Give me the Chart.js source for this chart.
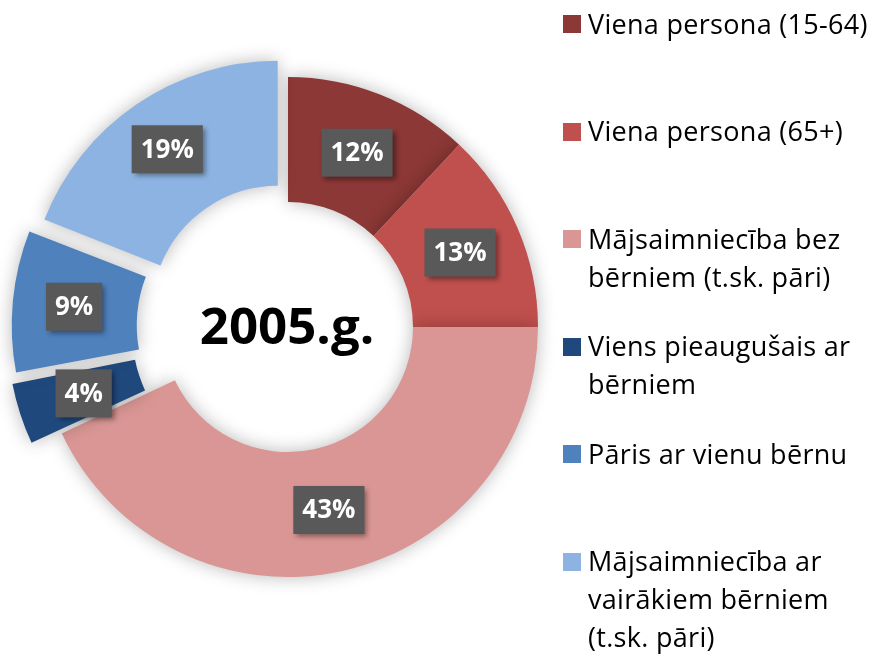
<!DOCTYPE html>
<html>
<head>
<meta charset="utf-8">
<script src="https://cdn.jsdelivr.net/npm/chart.js@4.4.0/dist/chart.umd.min.js"></script>
<style>
  html, body { margin: 0; padding: 0; background: #fff; }
  body { width: 879px; height: 656px; position: relative; overflow: hidden; font-family: "Open Sans", sans-serif; }
  #wrap { position: absolute; left: 0; top: 0; width: 576px; height: 654px; }
  #legend { position: absolute; left: 563px; top: 4.5px; width: 316px; }
  .item { position: relative; height: 107.6px; }
  .box { position: absolute; left: 0; top: 10.5px; width: 18px; height: 18px; }
  .txt { position: absolute; left: 25px; top: 0; font-size: 27px; line-height: 38px; color: #000;
         white-space: nowrap; letter-spacing: 0.3px; }
</style>
</head>
<body>
<div id="wrap"><canvas id="pieChart"></canvas></div>
<div id="legend"></div>
<script>
// data
const categories = [
  ['Viena persona (15-64)'],
  ['Viena persona (65+)'],
  ['Mājsaimniecība bez', 'bērniem (t.sk. pāri)'],
  ['Viens pieaugušais ar', 'bērniem'],
  ['Pāris ar vienu bērnu'],
  ['Mājsaimniecība ar', 'vairākiem bērniem', '(t.sk. pāri)']
];
const shares = [12, 13, 43, 4, 9, 19];
const colors = ['#8C3836', '#C0504D', '#D99694', '#1F497D', '#4F81BD', '#8DB3E2'];
const exploded = [0, 0, 0, 1, 1, 1];
const centerLabel = '2005.g.';

const OFFSET = 72;

// legend
const legendEl = document.getElementById('legend');
categories.forEach((lines, i) => {
  const item = document.createElement('div');
  item.className = 'item';
  const box = document.createElement('div');
  box.className = 'box';
  box.style.background = colors[i];
  const txt = document.createElement('div');
  txt.className = 'txt';
  txt.innerHTML = lines.join('<br>');
  item.appendChild(box);
  item.appendChild(txt);
  legendEl.appendChild(item);
});

const shadowPlugin = {
  id: 'shadow',
  beforeDatasetsDraw(chart) {
    const ctx = chart.ctx;
    ctx.save();
    ctx.shadowColor = 'rgba(0,0,0,0.28)';
    ctx.shadowBlur = 18;
  },
  afterDatasetsDraw(chart) {
    chart.ctx.restore();
  }
};

const labelPlugin = {
  id: 'labels',
  afterDatasetsDraw(chart) {
    const ctx = chart.ctx;
    const meta = chart.getDatasetMeta(0);
    ctx.save();
    ctx.font = 'bold 26px "Open Sans"';
    ctx.textAlign = 'center';
    ctx.textBaseline = 'middle';
    meta.data.forEach((arc, i) => {
      const p = arc.getProps(['x', 'y', 'startAngle', 'endAngle', 'innerRadius', 'outerRadius'], true);
      const mid = (p.startAngle + p.endAngle) / 2;
      const r = (p.innerRadius + p.outerRadius) / 2 + (arc.options.offset || 0) * 0.38;
      const cx = p.x + Math.cos(mid) * r;
      const cy = p.y + Math.sin(mid) * r;
      const text = shares[i] + '%';
      const w = ctx.measureText(text).width + 18;
      const h = 48;
      ctx.save();
      ctx.shadowColor = 'rgba(0,0,0,0.4)';
      ctx.shadowBlur = 5;
      ctx.shadowOffsetX = 3;
      ctx.shadowOffsetY = 3;
      ctx.fillStyle = '#595959';
      ctx.fillRect(cx - w / 2, cy - h / 2, w, h);
      ctx.restore();
      ctx.fillStyle = '#fff';
      ctx.fillText(text, cx, cy + 1);
    });
    // center title
    const c = meta.data[0];
    ctx.fillStyle = '#000';
    ctx.font = 'bold 51px "Open Sans"';
    ctx.fillText(centerLabel, c.x - 1, c.y + 2);
    ctx.restore();
  }
};

new Chart(document.getElementById('pieChart').getContext('2d'), {
  type: 'doughnut',
  data: {
    labels: categories,
    datasets: [{
      data: shares,
      backgroundColor: colors,
      borderWidth: 0,
      offset: exploded.map(e => e * OFFSET),
      hoverOffset: 0,
      radius: 250
    }]
  },
  options: {
    responsive: true,
    maintainAspectRatio: false,
    animation: false,
    cutout: '50%',
    layout: { padding: 0 },
    plugins: {
      legend: { display: false },
      tooltip: { enabled: false }
    }
  },
  plugins: [shadowPlugin, labelPlugin]
});
</script>
</body>
</html>
